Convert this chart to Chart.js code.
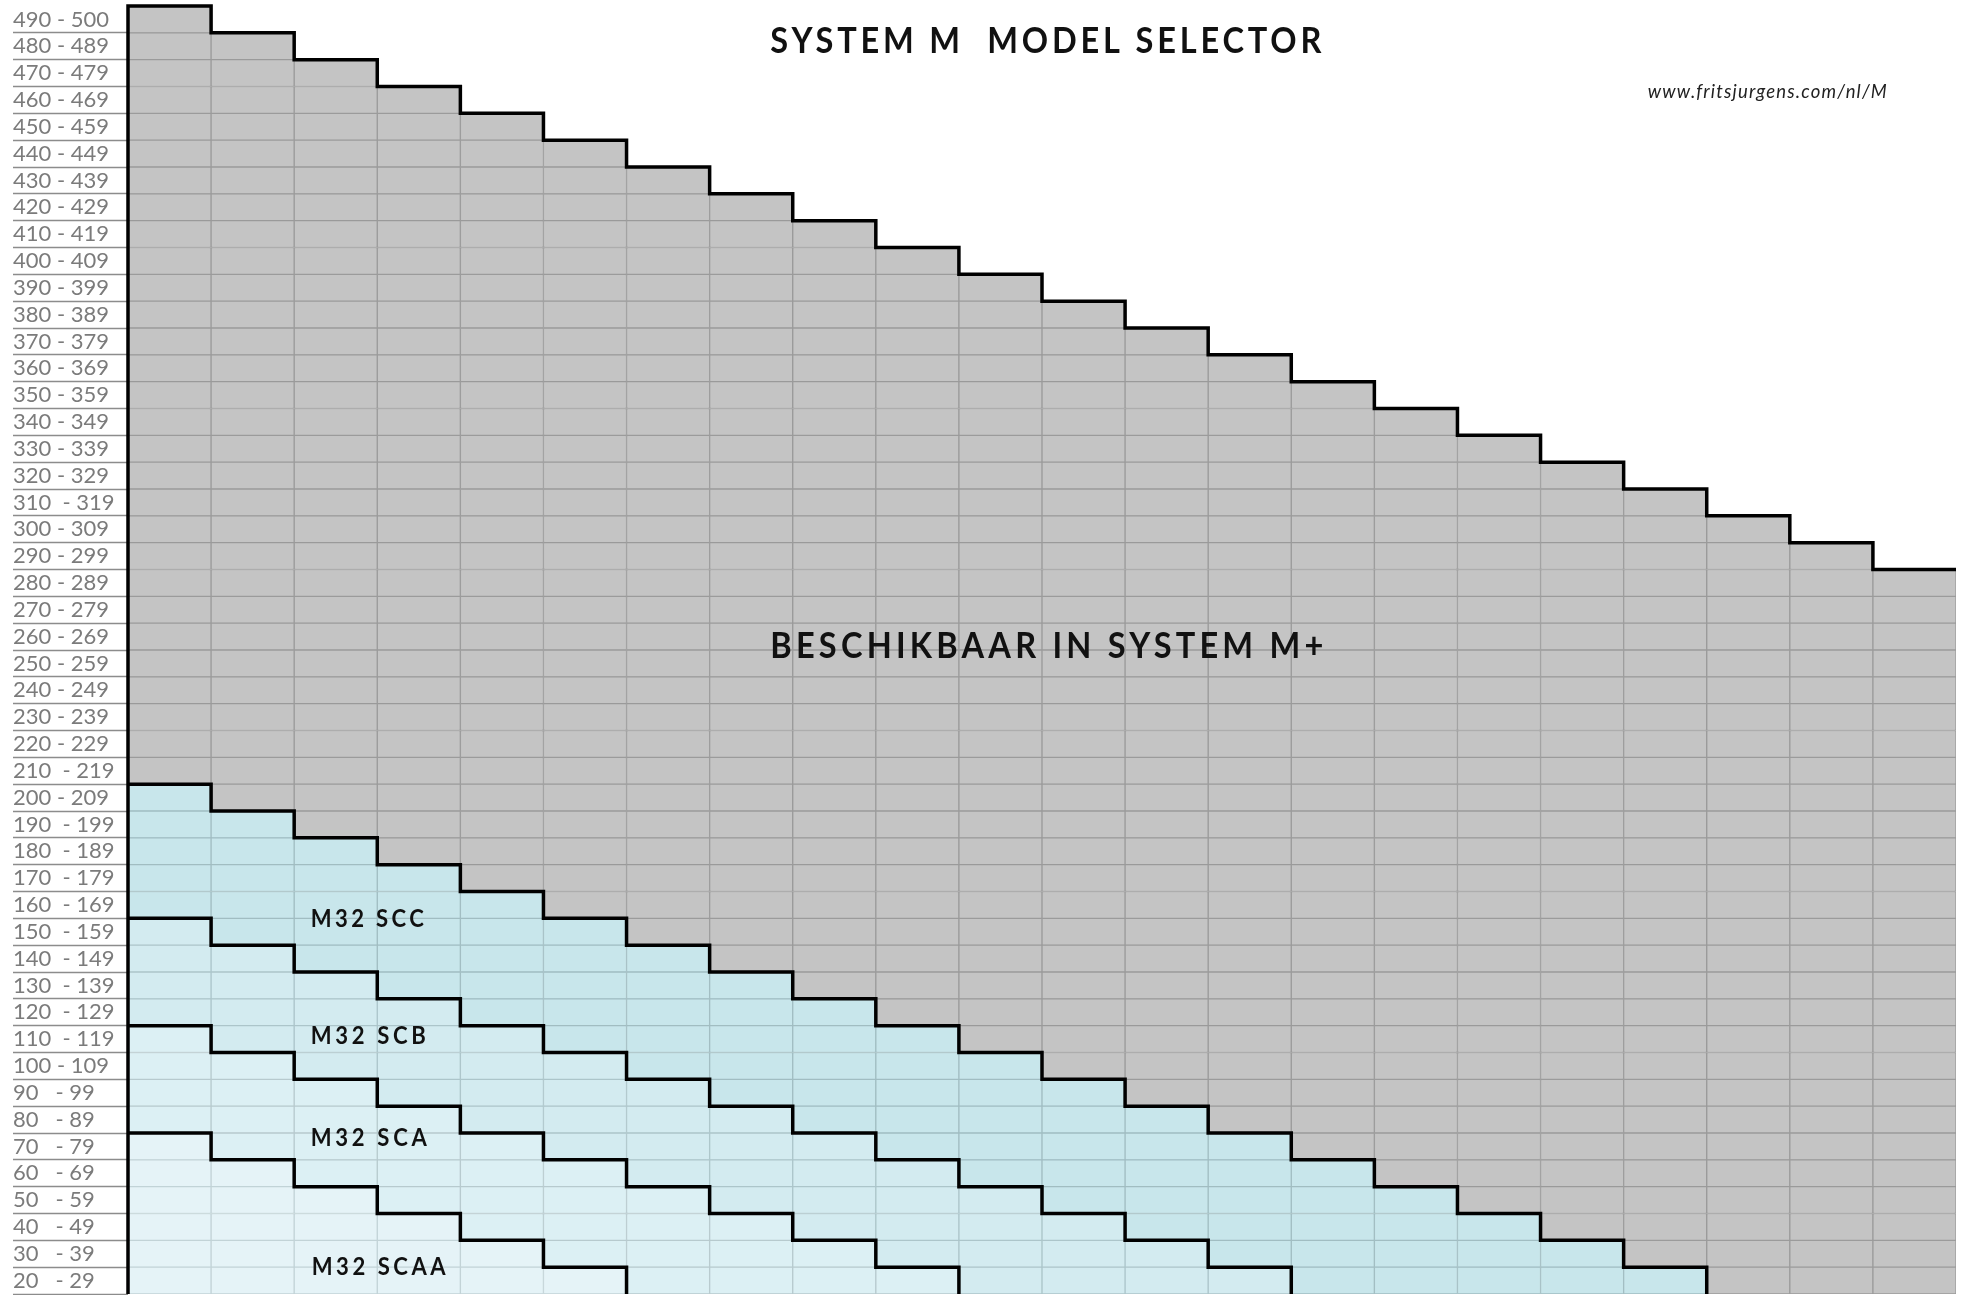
<!DOCTYPE html>
<html><head><meta charset="utf-8">
<script src="https://cdn.jsdelivr.net/npm/chart.js@4.4.1/dist/chart.umd.min.js"></script>
<style>html,body{margin:0;padding:0;background:#fff;overflow:hidden}#wrap{position:relative;width:1966px;height:1295px}</style>
</head><body><div id="wrap"><canvas id="c"></canvas></div>
<script>
// ---- data ----
const columnIds = ['1','2','3','4','5','6','7','8','9','10','11','12','13','14','15','16','17','18','19','20','21','22'];
const rowStarts = [20,30,40,50,60,70,80,90,100,110,120,130,140,150,160,170,180,190,200,210,220,230,240,250,260,270,280,290,300,310,320,330,340,350,360,370,380,390,400,410,420,430,440,450,460,470,480,490];
const rowLabels = ['20   - 29','30   - 39','40   - 49','50   - 59','60   - 69','70   - 79','80   - 89','90   - 99','100 - 109','110  - 119','120  - 129','130  - 139','140  - 149','150  - 159','160  - 169','170  - 179','180  - 189','190  - 199','200 - 209','210  - 219','220 - 229','230 - 239','240 - 249','250 - 259','260 - 269','270 - 279','280 - 289','290 - 299','300 - 309','310  - 319','320 - 329','330 - 339','340 - 349','350 - 359','360 - 369','370 - 379','380 - 389','390 - 399','400 - 409','410 - 419','420 - 429','430 - 439','440 - 449','450 - 459','460 - 469','470 - 479','480 - 489','490 - 500'];
const yMin = 20, yMax = 500;
const grayTop = [500,490,480,470,460,450,440,430,420,410,400,390,380,370,360,350,340,330,320,310,300,290];
const sccTop  = [210,200,190,180,170,160,150,140,130,120,110,100,90,80,70,60,50,40,30,20,20,20];
const scbTop  = [160,150,140,130,120,110,100,90,80,70,60,50,40,30,20,20,20,20,20,20,20,20];
const scaTop  = [120,110,100,90,80,70,60,50,40,30,20,20,20,20,20,20,20,20,20,20,20,20];
const scaaTop = [80,70,60,50,40,30,20,20,20,20,20,20,20,20,20,20,20,20,20,20,20,20];
const titleText = 'SYSTEM M  MODEL SELECTOR';
const urlText = 'www.fritsjurgens.com/nl/M';
const plusText = 'BESCHIKBAAR IN SYSTEM M+';
const modelNames = ['M32 SCC','M32 SCB','M32 SCA','M32 SCAA'];

// ---- styling ----
const regions = [
  {top: scaaTop, fill:'#e5f3f7', grid:'#c2d3d7'},
  {top: scaTop,  fill:'#dcf0f4', grid:'#b7cace'},
  {top: scbTop,  fill:'#d3ebf0', grid:'#acc5ca'},
  {top: sccTop,  fill:'#c8e6eb', grid:'#a1bdc2'},
  {top: grayTop, fill:'#c4c4c4', grid:'#9b9b9b'}
];
function regionAt(c, v){ for (const r of regions) if (v < r.top[c]) return r; return null; }

const cellDatasets = rowStarts.map(v => ({
  type:'bar', xAxisID:'x', yAxisID:'y', order:2, grouped:false,
  data: columnIds.map((_, c) => regionAt(c, v) ? [v, v + 10] : null),
  backgroundColor: columnIds.map((_, c) => (regionAt(c, v) || {}).fill || 'rgba(0,0,0,0)'),
  borderColor: columnIds.map((_, c) => (regionAt(c, v) || {}).grid || 'rgba(0,0,0,0)'),
  borderWidth: 1, borderSkipped: false, barPercentage: 1, categoryPercentage: 1
}));

function outline(top, withLeftEdge){
  const pts = [];
  if (withLeftEdge) pts.push({x:0, y:yMin});
  for (let c = 0; c < top.length; c++){ pts.push({x:c, y:top[c]}); if (top[c] <= yMin) break; }
  if (top[top.length-1] > yMin) pts.push({x:top.length, y:top[top.length-1]});
  return pts;
}
const outlineDatasets = [ [grayTop,true],[sccTop,false],[scbTop,false],[scaTop,false],[scaaTop,false] ].map(([t,l]) => ({
  type:'line', xAxisID:'x2', yAxisID:'y', order:0, data: outline(t, l), stepped:'before',
  borderColor:'#000', borderWidth:3.5, pointRadius:0, fill:false, clip:false, borderJoinStyle:'miter'
}));

const annotations = [
  {text:titleText, x:7.73, y:482.3, width:551, font:'700 37px Lato', sx:0.88, color:'#111'},
  {text:urlText, x:18.29, y:465.7, width:239, font:'italic 400 18.5px Lato', sx:1, color:'#222'},
  {text:plusText, x:7.73, y:257.1, width:553, font:'700 37px Lato', sx:0.88, color:'#111'},
  {text:modelNames[0], x:2.2, y:156.7, width:113, font:'700 24px Lato', sx:0.92, color:'#111'},
  {text:modelNames[1], x:2.2, y:113, width:115, font:'700 24px Lato', sx:0.92, color:'#111'},
  {text:modelNames[2], x:2.2, y:75.1, width:116, font:'700 24px Lato', sx:0.92, color:'#111'},
  {text:modelNames[3], x:2.21, y:27.1, width:134, font:'700 24px Lato', sx:0.92, color:'#111'}
];
const textPlugin = {
  id:'textPlugin',
  afterDatasetsDraw(chart){
    const ctx = chart.ctx, xs = chart.scales.x2, ys = chart.scales.y;
    annotations.forEach(a => {
      ctx.save();
      ctx.font = a.font; ctx.fillStyle = a.color; ctx.textAlign = 'left'; ctx.textBaseline = 'alphabetic';
      ctx.letterSpacing = '0px';
      const w0 = ctx.measureText(a.text).width;
      const sp = (a.width / a.sx - w0) / (a.text.length - 1);
      ctx.letterSpacing = sp.toFixed(2) + 'px';
      ctx.translate(xs.getPixelForValue(a.x), ys.getPixelForValue(a.y));
      ctx.scale(a.sx, 1);
      ctx.fillText(a.text, 0, 0);
      ctx.restore();
    });
  }
};

new Chart(document.getElementById('c'), {
  data: { labels: columnIds, datasets: outlineDatasets.concat(cellDatasets) },
  options: {
    animation:false, responsive:true, maintainAspectRatio:false, events:[],
    layout:{ padding:{ left:13, right:10, top:6, bottom:1 } },
    plugins:{ legend:{display:false}, tooltip:{enabled:false}, title:{display:false} },
    scales:{
      x:{ type:'category', display:false, offset:true },
      x2:{ type:'linear', display:false, min:0, max:columnIds.length, offset:false },
      y:{
        type:'linear', min:yMin, max:yMax, position:'left',
        ticks:{ stepSize:10, autoSkip:false, crossAlign:'far', padding:0, labelOffset:-13.4,
          color:'#7b7b7b', font:{ family:'Lato', size:22 },
          callback:(v) => { const i = rowStarts.indexOf(v); return i >= 0 ? rowLabels[i] : ''; } },
        grid:{ drawOnChartArea:false, drawTicks:true, tickLength:115, tickWidth:1.5,
          tickColor:(ctx) => (ctx.tick && ctx.tick.value === yMax) ? 'rgba(0,0,0,0)' : '#8c8c8c' },
        border:{ display:false },
        afterFit:(s) => { s.width = 115; s.paddingTop = 0; s.paddingBottom = 0; }
      }
    }
  },
  plugins:[textPlugin]
});
</script></body></html>
